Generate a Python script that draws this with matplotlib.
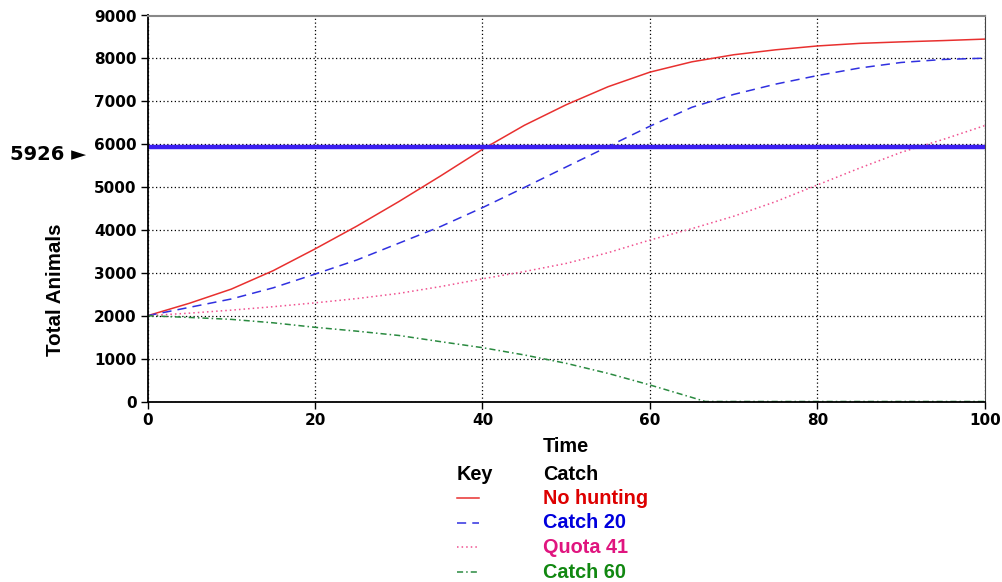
import matplotlib
matplotlib.use("Agg")
import matplotlib.pyplot as plt
from matplotlib.lines import Line2D

plt.rcParams["font.family"] = ["Liberation Sans", "DejaVu Sans"]
plt.rcParams["font.weight"] = "bold"

# values, every 5 time units
time = [0, 5, 10, 15, 20, 25, 30, 35, 40, 45, 50, 55, 60, 65, 70, 75, 80, 85, 90, 95, 100]
no_hunting = [2000, 2290, 2620, 3050, 3557, 4090, 4660, 5260, 5880, 6440, 6920,
              7340, 7680, 7920, 8085, 8200, 8290, 8350, 8385, 8415, 8450]
catch_20 = [2000, 2195, 2390, 2650, 2970, 3300, 3690, 4080, 4520, 4990, 5470,
            5945, 6420, 6860, 7160, 7400, 7600, 7775, 7905, 7975, 8005]
quota_41 = [2000, 2060, 2130, 2210, 2300, 2400, 2520, 2680, 2860, 3030, 3220,
            3470, 3765, 4030, 4320, 4660, 5050, 5440, 5810, 6110, 6435]
catch_60_t = [0, 5, 10, 15, 20, 25, 30, 35, 40, 45, 50, 55, 60, 65, 66.6, 70, 80, 90, 100]
catch_60 = [2000, 1960, 1915, 1835, 1730, 1640, 1540, 1395, 1255, 1085, 890,
            655, 385, 95, 0, 0, 0, 0, 0]
marker_value = 5926

names = ["No hunting", "Catch 20", "Quota 41", "Catch 60"]
line_colors = ["#e8302f", "#3030e0", "#f0508f", "#2a8a40"]
text_colors = ["#dd0000", "#0000dd", "#e0157f", "#118811"]
styles = ["-", (0, (6, 4)), (0, (1, 2)), (0, (4, 2, 1, 2))]

fig = plt.figure(figsize=(10.03, 5.82), dpi=100)
ax = fig.add_axes([147.5 / 1003, 1 - 401.5 / 582, 837.5 / 1003, 386 / 582])

series = [(time, no_hunting), (time, catch_20), (time, quota_41), (catch_60_t, catch_60)]
for (t, v), c, ls in zip(series, line_colors, styles):
    ax.plot(t, v, color=c, linestyle=ls, linewidth=1.1)

ax.axhline(marker_value, color="#3a1ef0", linewidth=3.2)

ax.set_xlim(0, 100)
ax.set_ylim(0, 9000)
ax.set_xticks(range(0, 101, 20))
ax.set_yticks(range(0, 9001, 1000))
ax.grid(True, color="black", linestyle=(0, (1, 2)), linewidth=0.9)
ax.tick_params(length=5, width=1, colors="black", pad=3)
for lab in ax.get_xticklabels() + ax.get_yticklabels():
    lab.set_fontfamily("DejaVu Sans")
    lab.set_fontweight("bold")
    lab.set_fontsize(11)
ax.spines["top"].set_color("#888888")
ax.spines["top"].set_linewidth(1.5)
ax.spines["left"].set_linewidth(1.3)
ax.spines["bottom"].set_linewidth(1.3)
ax.spines["right"].set_color("#444444")

fig.text(55.5 / 1003, 1 - 290 / 582, "Total Animals", fontsize=14.8, fontweight="bold",
         rotation=90, ha="center", va="center")
fig.text(566 / 1003, 1 - 447 / 582, "Time", fontsize=14.3, fontweight="bold",
         ha="center", va="center")
fig.text(457 / 1003, 1 - 475 / 582, "Key", fontsize=14.3, fontweight="bold", va="center")
fig.text(543 / 1003, 1 - 475 / 582, "Catch", fontsize=14.3, fontweight="bold", va="center")
fig.text(10 / 1003, 1 - 155 / 582, f"{marker_value} \u25ba", fontsize=14,
         family="DejaVu Sans", fontweight="bold", va="center")

for i, (name, lc, tc, ls) in enumerate(zip(names, line_colors, text_colors, styles)):
    y = 1 - (498 + i * 24.7) / 582
    fig.add_artist(Line2D([457 / 1003, 479 / 1003], [y, y], color=lc,
                          linestyle=ls, linewidth=1.1, transform=fig.transFigure))
    fig.text(543 / 1003, y, name, color=tc, fontsize=14.3, fontweight="bold",
             va="center")

fig.savefig("out.png", dpi=100)
